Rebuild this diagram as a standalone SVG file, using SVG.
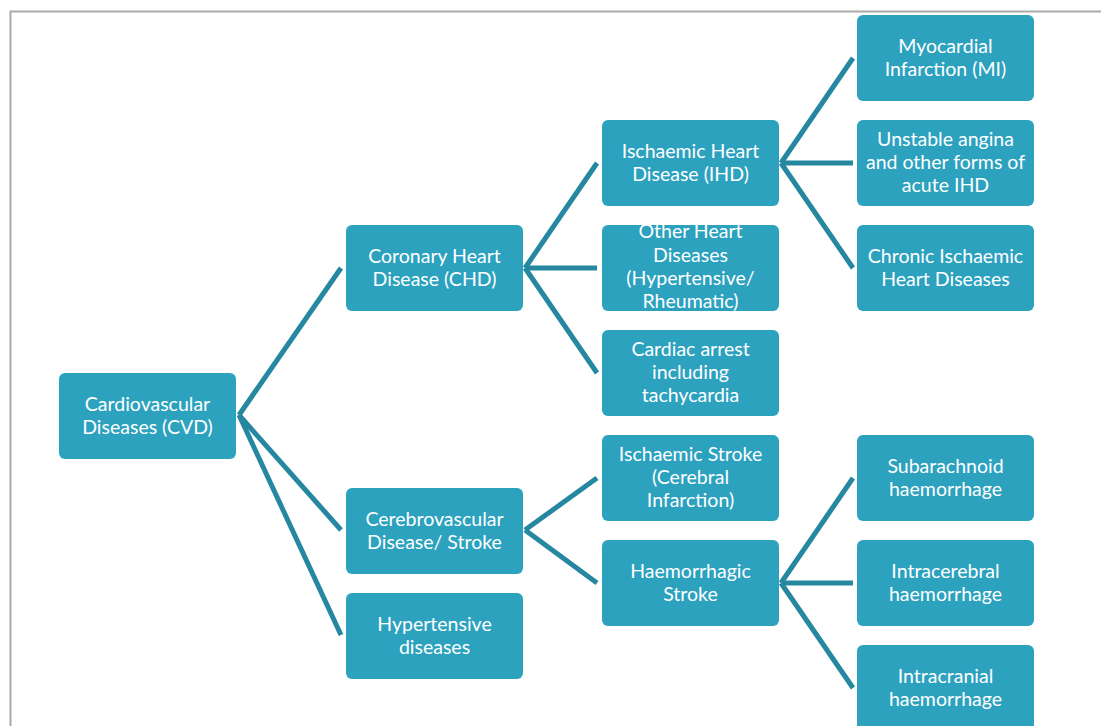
<svg xmlns="http://www.w3.org/2000/svg" width="1101" height="726" viewBox="0 0 1101 726">
<style>
.n rect{fill:#2ca2bf;}
.n text{fill:#ffffff;font-family:Lato,"Open Sans","Liberation Sans",sans-serif;font-size:19.5px;text-anchor:middle;}
.c line{stroke:#2587a0;stroke-width:5;}
</style>
<rect x="0" y="0" width="1101" height="726" fill="#ffffff"/>
<path d="M10.5 726 V11.5 H1101" fill="none" stroke="#a9a9a9" stroke-width="2"/>
<g class="c" id="connectors">
<line x1="239" y1="415" x2="341" y2="268"/>
<line x1="239" y1="415" x2="341" y2="530"/>
<line x1="239" y1="415" x2="341" y2="635"/>
<line x1="525" y1="268" x2="597" y2="163"/>
<line x1="525" y1="268" x2="597" y2="268"/>
<line x1="525" y1="268" x2="597" y2="373"/>
<line x1="525" y1="530" x2="597" y2="478"/>
<line x1="525" y1="530" x2="597" y2="583"/>
<line x1="781" y1="163" x2="853" y2="58"/>
<line x1="781" y1="163" x2="853" y2="163"/>
<line x1="781" y1="163" x2="853" y2="268"/>
<line x1="781" y1="583" x2="853" y2="478"/>
<line x1="781" y1="583" x2="853" y2="583"/>
<line x1="781" y1="583" x2="853" y2="688"/>
</g>
<g class="n" id="cvd"><rect x="59" y="373" width="177" height="86" rx="6"/><text x="147.5" y="411">Cardiovascular</text><text x="147.5" y="434">Diseases (CVD)</text></g>
<g class="n" id="chd"><rect x="346" y="225" width="177" height="86" rx="6"/><text x="434.5" y="263">Coronary Heart</text><text x="434.5" y="286">Disease (CHD)</text></g>
<g class="n" id="cereb"><rect x="346" y="488" width="177" height="86" rx="6"/><text x="434.5" y="526">Cerebrovascular</text><text x="434.5" y="549">Disease/ Stroke</text></g>
<g class="n" id="hyper"><rect x="346" y="593" width="177" height="86" rx="6"/><text x="434.5" y="631">Hypertensive</text><text x="434.5" y="654">diseases</text></g>
<g class="n" id="ihd"><rect x="602" y="120" width="177" height="86" rx="6"/><text x="690.5" y="158">Ischaemic Heart</text><text x="690.5" y="181">Disease (IHD)</text></g>
<g class="n" id="other"><rect x="602" y="225" width="177" height="86" rx="6"/><text x="690.5" y="238.3">Other Heart</text><text x="690.5" y="261.7">Diseases</text><text x="690.5" y="285">(Hypertensive/</text><text x="690.5" y="308.3">Rheumatic)</text></g>
<g class="n" id="cardiac"><rect x="602" y="330" width="177" height="86" rx="6"/><text x="690.5" y="355.7">Cardiac arrest</text><text x="690.5" y="379">including</text><text x="690.5" y="402.3">tachycardia</text></g>
<g class="n" id="isstroke"><rect x="602" y="435" width="177" height="86" rx="6"/><text x="690.5" y="460.7">Ischaemic Stroke</text><text x="690.5" y="484">(Cerebral</text><text x="690.5" y="507.3">Infarction)</text></g>
<g class="n" id="haem"><rect x="602" y="540" width="177" height="86" rx="6"/><text x="690.5" y="578">Haemorrhagic</text><text x="690.5" y="601">Stroke</text></g>
<g class="n" id="mi"><rect x="857" y="15" width="177" height="86" rx="6"/><text x="945.5" y="53">Myocardial</text><text x="945.5" y="76">Infarction (MI)</text></g>
<g class="n" id="unstable"><rect x="857" y="120" width="177" height="86" rx="6"/><text x="945.5" y="145.7">Unstable angina</text><text x="945.5" y="169">and other forms of</text><text x="945.5" y="192.3">acute IHD</text></g>
<g class="n" id="chronic"><rect x="857" y="225" width="177" height="86" rx="6"/><text x="945.5" y="263">Chronic Ischaemic</text><text x="945.5" y="286">Heart Diseases</text></g>
<g class="n" id="subarach"><rect x="857" y="435" width="177" height="86" rx="6"/><text x="945.5" y="473">Subarachnoid</text><text x="945.5" y="496">haemorrhage</text></g>
<g class="n" id="intracereb"><rect x="857" y="540" width="177" height="86" rx="6"/><text x="945.5" y="578">Intracerebral</text><text x="945.5" y="601">haemorrhage</text></g>
<g class="n" id="intracran"><rect x="857" y="645" width="177" height="86" rx="6"/><text x="945.5" y="683">Intracranial</text><text x="945.5" y="706">haemorrhage</text></g>
</svg>
